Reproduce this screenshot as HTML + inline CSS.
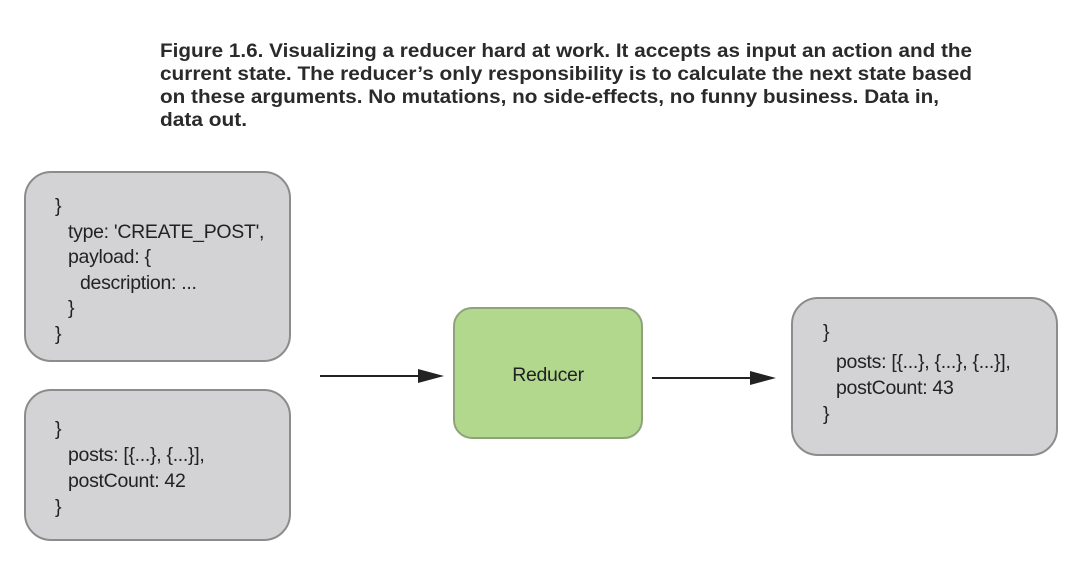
<!DOCTYPE html>
<html><head><meta charset="utf-8"><style>
html,body{margin:0;padding:0;background:#fff;}
svg{display:block;}
</style></head><body>
<svg width="1084" height="583" viewBox="0 0 1084 583" xmlns="http://www.w3.org/2000/svg">
<g font-family="Liberation Sans, sans-serif" font-weight="bold" font-size="19" fill="#2a2a2a">
<text x="160" y="57" textLength="812" lengthAdjust="spacingAndGlyphs">Figure 1.6. Visualizing a reducer hard at work. It accepts as input an action and the</text>
<text x="160" y="80" textLength="812" lengthAdjust="spacingAndGlyphs">current state. The reducer’s only responsibility is to calculate the next state based</text>
<text x="160" y="103" textLength="779" lengthAdjust="spacingAndGlyphs">on these arguments. No mutations, no side-effects, no funny business. Data in,</text>
<text x="160" y="126" textLength="87" lengthAdjust="spacingAndGlyphs">data out.</text>
</g>
<g fill="#d3d3d6" stroke="#8c8c8c" stroke-width="2">
<rect x="25" y="172" width="265" height="189" rx="26"/>
<rect x="25" y="390" width="265" height="150" rx="26"/>
<rect x="792" y="298" width="265" height="157" rx="26"/>
</g>
<rect x="454" y="308" width="188" height="130" rx="18" fill="#b2d88e" stroke="#8ea37a" stroke-width="2"/>
<g stroke="#222" stroke-width="2"><line x1="320" y1="376" x2="420" y2="376"/><line x1="652" y1="378" x2="752" y2="378"/></g>
<g fill="#222"><polygon points="418,369 444,376 418,383"/><polygon points="750,371 776,378 750,385"/></g>
<g font-family="Liberation Sans, sans-serif" font-size="19.5" fill="#222" letter-spacing="-0.3">
<text x="55" y="212">}</text>
<text x="68" y="238">type: 'CREATE_POST',</text>
<text x="68" y="263">payload: {</text>
<text x="80" y="289">description: ...</text>
<text x="68" y="314">}</text>
<text x="55" y="340">}</text>
<text x="55" y="435">}</text>
<text x="68" y="461">posts: [{...}, {...}],</text>
<text x="68" y="487">postCount: 42</text>
<text x="55" y="513">}</text>
<text x="823" y="338">}</text>
<text x="836" y="368">posts: [{...}, {...}, {...}],</text>
<text x="836" y="394">postCount: 43</text>
<text x="823" y="420">}</text>
<text x="548" y="381" text-anchor="middle">Reducer</text>
</g>
</svg>
</body></html>
